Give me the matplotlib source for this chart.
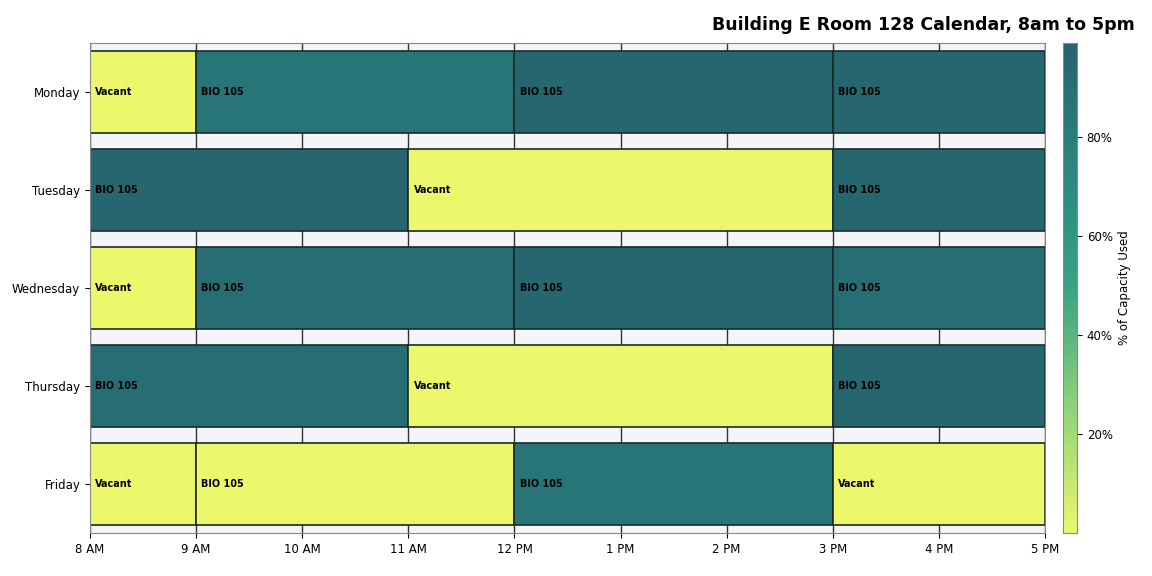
import matplotlib.pyplot as plt
import matplotlib.colors as mcolors
import numpy as np

days = ["Monday", "Tuesday", "Wednesday", "Thursday", "Friday"]
starts = [[8, 9, 12, 15], [8, 11, 15], [8, 9, 12, 15], [8, 11, 15], [8, 9, 12, 15]]
ends = [[9, 12, 15, 17], [11, 15, 17], [9, 12, 15, 17], [11, 15, 17], [9, 12, 15, 17]]
labels = [["Vacant", "BIO 105", "BIO 105", "BIO 105"],
          ["BIO 105", "Vacant", "BIO 105"],
          ["Vacant", "BIO 105", "BIO 105", "BIO 105"],
          ["BIO 105", "Vacant", "BIO 105"],
          ["Vacant", "BIO 105", "BIO 105", "Vacant"]]
used = [[0, 86, 97, 97],
        [97, 0, 97],
        [0, 91, 97, 91],
        [91, 0, 97],
        [0, 0, 86, 0]]
hours = [8, 9, 10, 11, 12, 13, 14, 15, 16, 17]
hour_labels = ["8 AM", "9 AM", "10 AM", "11 AM", "12 PM", "1 PM", "2 PM", "3 PM", "4 PM", "5 PM"]

cmap = mcolors.LinearSegmentedColormap.from_list(
    "cap", ["#ecf76c", "#8fd47a", "#3aa283", "#2a8580", "#26636e"])
norm = mcolors.Normalize(0, 99)

fig = plt.figure(figsize=(11.52, 5.76), dpi=100)
ax = fig.add_axes([90 / 1152, 43 / 576, 955 / 1152, 490 / 576])
cax = fig.add_axes([1063 / 1152, 43 / 576, 14 / 1152, 490 / 576])

ax.set_facecolor("#f4f5f8")
for h in hours:
    ax.axvline(h, color="#333333", lw=1, zorder=0)

for i, day in enumerate(days):
    for s, e, lab, v in zip(starts[i], ends[i], labels[i], used[i]):
        ax.barh(i, e - s, left=s, height=0.83, color=cmap(norm(v)),
                edgecolor="#1a2a2a", lw=1.2, zorder=2)
        ax.text(s + 0.05, i, lab, fontsize=7, fontweight="bold",
                va="center", ha="left", zorder=3)

ax.set_xlim(8, 17)
ax.set_ylim(4.5, -0.5)
ax.set_yticks(range(len(days)))
ax.set_yticklabels(days, fontsize=8.5)
ax.set_xticks(hours)
ax.set_xticklabels(hour_labels, fontsize=8.5)
for sp in ax.spines.values():
    sp.set_color("#888888")

sm = plt.cm.ScalarMappable(norm=norm, cmap=cmap)
cb = fig.colorbar(sm, cax=cax)
cb.set_ticks([20, 40, 60, 80])
cb.set_ticklabels(["20%", "40%", "60%", "80%"])
cb.ax.tick_params(labelsize=8.5)
cb.outline.set_edgecolor("#888888")
cb.set_label("% of Capacity Used", fontsize=8.5)

fig.text(1135 / 1152, 1 - 25 / 576, "Building E Room 128 Calendar, 8am to 5pm",
         ha="right", va="center", fontsize=12.5, fontweight="bold")

fig.savefig("out.png", dpi=100)
